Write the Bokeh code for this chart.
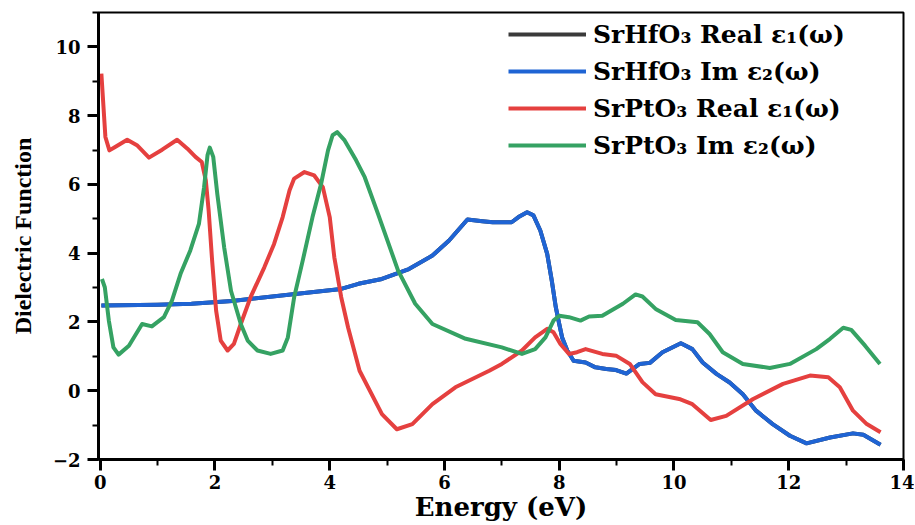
from bokeh.plotting import figure
from bokeh.models import Range1d, SingleIntervalTicker, Legend, LegendItem
from bokeh.embed import file_html
from bokeh.resources import INLINE

# ---- data ----
hf_im_x = [0.02, 1.00, 1.59, 2.30, 3.44, 4.20, 4.50, 4.91, 5.38, 5.79,
           6.08, 6.40, 6.66, 6.84, 7.00, 7.17, 7.29, 7.44, 7.55, 7.67,
           7.79, 7.87, 7.94, 8.00, 8.05, 8.14, 8.25, 8.46, 8.63, 8.82,
           8.99, 9.17, 9.40, 9.58, 9.80, 10.12, 10.32, 10.50, 10.74, 10.97, 11.20,
           11.43, 11.72, 12.02, 12.31, 12.72, 13.12, 13.30, 13.60]
hf_im_y = [2.48, 2.50, 2.53, 2.61, 2.82, 2.96, 3.11, 3.25, 3.54, 3.93,
           4.37, 4.98, 4.93, 4.90, 4.90, 4.90, 5.05, 5.19, 5.10, 4.66,
           3.98, 3.20, 2.43, 1.94, 1.55, 1.17, 0.87, 0.82, 0.68, 0.63,
           0.60, 0.50, 0.78, 0.81, 1.12, 1.38, 1.21, 0.82, 0.49, 0.24, -0.10,
           -0.58, -0.97, -1.31, -1.53, -1.36, -1.24, -1.28, -1.57]
# SrHfO3 real part lies under the blue curve in the reference
hf_re_x = list(hf_im_x)
hf_re_y = list(hf_im_y)

pt_re_x = [0.02, 0.09, 0.16, 0.26, 0.47, 0.64, 0.85, 1.08, 1.34, 1.52,
           1.66, 1.77, 1.84, 1.89, 1.95, 2.02, 2.10, 2.22, 2.33, 2.45,
           2.62, 2.86, 3.03, 3.18, 3.30, 3.38, 3.56, 3.73, 3.88, 4.00,
           4.08, 4.20, 4.32, 4.52, 4.91, 5.17, 5.44, 5.79, 6.19, 6.78,
           7.00, 7.35, 7.58, 7.79, 7.90, 8.02, 8.17, 8.31, 8.46, 8.75,
           8.99, 9.23, 9.45, 9.68, 10.09, 10.32, 10.64, 10.91, 11.38, 11.90,
           12.37, 12.69, 12.89, 13.12, 13.36, 13.60]
pt_re_y = [9.22, 7.38, 6.99, 7.09, 7.30, 7.14, 6.78, 7.01, 7.30, 7.04,
           6.80, 6.65, 6.12, 5.24, 3.79, 2.33, 1.46, 1.17, 1.36, 1.94,
           2.72, 3.59, 4.27, 5.05, 5.83, 6.17, 6.36, 6.26, 5.92, 5.05,
           3.88, 2.72, 1.84, 0.58, -0.68, -1.12, -0.97, -0.39, 0.10, 0.58,
           0.78, 1.17, 1.55, 1.80, 1.70, 1.36, 1.07, 1.12, 1.21, 1.07,
           1.02, 0.78, 0.25, -0.10, -0.24, -0.39, -0.85, -0.73, -0.24, 0.20,
           0.44, 0.39, 0.10, -0.58, -0.97, -1.21]

pt_im_x = [0.03, 0.08, 0.15, 0.23, 0.32, 0.50, 0.73, 0.90, 1.11, 1.25,
           1.40, 1.57, 1.72, 1.81, 1.87, 1.91, 1.97, 2.04, 2.16, 2.28,
           2.45, 2.57, 2.74, 2.97, 3.18, 3.27, 3.38, 3.53, 3.70, 3.85,
           3.97, 4.05, 4.13, 4.26, 4.46, 4.61, 4.84, 5.19, 5.49, 5.79,
           6.37, 7.00, 7.35, 7.58, 7.76, 7.90, 8.00, 8.17, 8.37, 8.52,
           8.75, 9.11, 9.33, 9.45, 9.68, 10.03, 10.41, 10.62, 10.85, 11.20,
           11.67, 12.02, 12.48, 12.72, 12.95, 13.09, 13.33, 13.59]
pt_im_y = [3.25, 3.01, 2.04, 1.26, 1.05, 1.31, 1.94, 1.87, 2.14, 2.62,
           3.40, 4.08, 4.85, 5.92, 6.85, 7.07, 6.80, 5.73, 4.17, 2.90,
           1.94, 1.46, 1.17, 1.07, 1.17, 1.55, 2.72, 3.79, 5.05, 6.02,
           6.99, 7.43, 7.52, 7.28, 6.70, 6.21, 5.15, 3.50, 2.53, 1.94,
           1.51, 1.26, 1.07, 1.21, 1.55, 2.04, 2.18, 2.14, 2.04, 2.16,
           2.18, 2.53, 2.80, 2.74, 2.38, 2.06, 1.99, 1.65, 1.12, 0.78,
           0.66, 0.78, 1.21, 1.51, 1.83, 1.77, 1.31, 0.78]

labels = ["SrHfO\u2083 Real \u03b5\u2081(\u03c9)", "SrHfO\u2083 Im \u03b5\u2082(\u03c9)",
          "SrPtO\u2083 Real \u03b5\u2081(\u03c9)", "SrPtO\u2083 Im \u03b5\u2082(\u03c9)"]
colors = ["#3a3a3a", "#1f64d4", "#e5403f", "#35a263"]

SERIF_WIDE = "DejaVu Serif"
SERIF = "Liberation Serif"

p = figure(width=914, height=524, x_range=Range1d(-0.03, 14), y_range=Range1d(-2, 11),
           output_backend="svg", toolbar_location=None,
           min_border_left=98, min_border_right=11, min_border_top=12, min_border_bottom=65)
p.grid.visible = False
p.outline_line_color = "black"
p.outline_line_width = 2
p.outline_line_alpha = 1

r0 = p.line(hf_re_x, hf_re_y, line_color=colors[0], line_width=4, line_join="round")
r1 = p.line(hf_im_x, hf_im_y, line_color=colors[1], line_width=4, line_join="round")
r2 = p.line(pt_re_x, pt_re_y, line_color=colors[2], line_width=4, line_join="round")
r3 = p.line(pt_im_x, pt_im_y, line_color=colors[3], line_width=4, line_join="round")

p.xaxis.ticker = SingleIntervalTicker(interval=2, num_minor_ticks=2)
p.yaxis.ticker = SingleIntervalTicker(interval=2, num_minor_ticks=2)

for ax in (p.xaxis[0], p.yaxis[0]):
    ax.axis_line_width = 3
    ax.axis_line_color = "black"
    ax.major_tick_line_width = 3
    ax.major_tick_out = 11
    ax.major_tick_in = 0
    ax.minor_tick_line_width = 2
    ax.minor_tick_out = 6
    ax.minor_tick_in = 0
    ax.major_label_text_font = SERIF_WIDE
    ax.major_label_text_font_style = "bold"
    ax.major_label_text_font_size = "18px"
    ax.major_label_text_color = "black"
    ax.axis_label_text_font_style = "bold"
    ax.axis_label_text_color = "black"

p.xaxis.axis_label = "Energy (eV)"
p.xaxis.axis_label_text_font = SERIF_WIDE
p.xaxis.axis_label_text_font_size = "26px"
p.xaxis.major_label_standoff = 4
p.xaxis.axis_label_standoff = 0
p.xaxis.axis_label_text_line_height = 1.0
p.xaxis.major_label_text_line_height = 1.0

p.yaxis.axis_label = "Dielectric Function"
p.yaxis.axis_label_text_font = SERIF
p.yaxis.axis_label_text_font_size = "24px"
p.yaxis.major_label_standoff = 7
p.yaxis.axis_label_standoff = 14

legend = Legend(items=[LegendItem(label=labels[0], renderers=[r0]),
                       LegendItem(label=labels[1], renderers=[r1]),
                       LegendItem(label=labels[2], renderers=[r2]),
                       LegendItem(label=labels[3], renderers=[r3])],
                location=(410, 299))
legend.border_line_color = None
legend.background_fill_alpha = 0
legend.padding = 0
legend.margin = 0
legend.spacing = 7
legend.glyph_width = 78
legend.glyph_height = 30
legend.label_height = 30
legend.label_standoff = 7
legend.label_text_font = SERIF_WIDE
legend.label_text_font_style = "bold"
legend.label_text_font_size = "25px"
legend.label_text_color = "black"
p.add_layout(legend)

open("out.html", "w").write(file_html(p, INLINE))
